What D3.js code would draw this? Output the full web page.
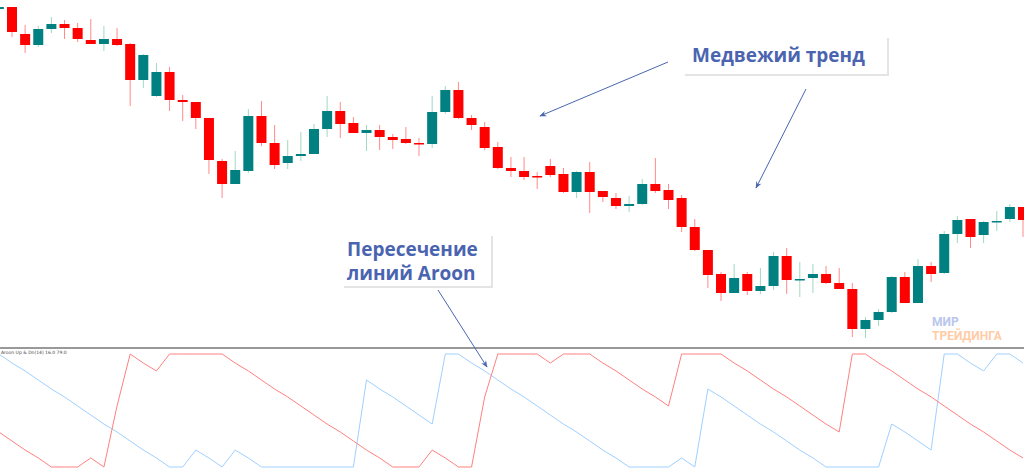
<!DOCTYPE html>
<html>
<head>
<meta charset="utf-8">
<script src="https://cdn.jsdelivr.net/npm/d3@7"></script>
<style>
  body { margin: 0; background: #fff; }
  svg { display: block; }
</style>
</head>
<body>
<script>
// candles: index, open, high, low, close (price units)
var idx = d3.range(-1, 78);
var opens = [491,493,466,455,471,476,472,460,456,461,
  456,420,404,428,400,398,382,339,316,329,
  384,357,337,344,346,371,389,377,367,370,
  363,361,357,356,388,410,382,373,353,332,
  329,324,334,326,308,328,309,302,294,296,
  316,310,302,273,250,226,207,226,209,214,
  244,220,222,226,217,211,171,180,188,223,
  197,234,227,266,281,265,278,281,293];
var highs = [494,493,475,474,483,480,477,481,474,472,
  457,446,437,433,405,398,382,341,349,391,
  399,375,360,368,376,404,398,383,375,375,
  366,373,362,404,414,418,385,378,358,343,
  343,328,341,332,329,338,309,307,304,321,
  342,316,305,281,250,228,236,228,232,248,
  252,238,236,234,232,217,183,191,224,228,
  241,238,269,284,281,279,289,296,293];
var lows = [490,463,447,453,467,461,458,456,449,454,
  394,412,403,389,379,371,326,302,316,327,
  354,331,331,339,346,363,362,367,349,350,
  351,356,344,352,386,381,370,350,331,323,
  320,311,323,307,302,287,298,291,288,295,
  307,291,268,249,212,199,207,205,206,210,
  206,203,207,216,211,163,162,174,187,197,
  197,218,226,257,252,257,269,278,263];
var closes = [493,468,455,471,476,472,461,456,461,455,
  420,445,428,400,398,382,340,316,330,384,
  357,335,344,346,371,389,376,367,370,363,
  360,357,356,388,410,382,375,352,332,329,
  323,323,325,308,328,308,303,294,296,316,
  309,300,273,250,225,207,222,209,214,244,
  220,221,226,217,211,171,180,188,223,197,
  234,226,266,280,263,278,279,293,280];

// Aroon values (%), same index as candles
var aroonUp   = [100,92,85,77,69,62,54,46,38,31,23,15,8,0,0,15,8,0,15,8,0,0,0,0,0,0,0,0,77,69,62,54,46,38,100,100,92,85,77,69,62,54,46,38,31,23,15,8,0,0,0,0,8,0,69,62,54,46,38,31,23,15,8,0,0,0,0,0,38,31,23,15,100,100,92,85,100,100,92];
var aroonDown = [31,23,15,8,0,0,0,8,0,54,100,92,85,100,100,100,100,100,92,85,77,69,62,54,46,38,31,23,15,8,0,0,0,15,8,0,0,62,100,100,100,100,92,100,100,100,92,85,77,69,62,54,100,100,100,100,92,85,77,69,62,54,46,38,31,100,100,92,85,77,69,62,54,46,38,31,23,15,8];

var candles = idx.map(function(k, i) {
  return { k: k, o: opens[i], h: highs[i], l: lows[i], c: closes[i] };
});

const W = 1024, H = 473;
const svg = d3.select("body").append("svg").attr("width", W).attr("height", H);

var x = d3.scaleLinear().domain([0, 77]).range([12, 12 + 13.13 * 77]);
var y = d3.scaleLinear().domain([500, 160]).range([0, 340]);
var ya = d3.scaleLinear().domain([0, 100]).range([467, 354]);

var up = "#ff0000", dn = "#008080";

// wicks
svg.append("g").selectAll("line").data(candles).enter().append("line")
  .attr("x1", d => x(d.k)).attr("x2", d => x(d.k))
  .attr("y1", d => y(d.h)).attr("y2", d => y(d.l))
  .attr("stroke", d => d.c >= d.o ? "#9fd9c0" : "#ff8a8a")
  .attr("stroke-width", 1);

// bodies
svg.append("g").selectAll("rect").data(candles).enter().append("rect")
  .attr("x", d => x(d.k) - 5)
  .attr("width", 10)
  .attr("y", d => y(Math.max(d.o, d.c)))
  .attr("height", d => Math.max(1.5, Math.abs(y(d.o) - y(d.c))))
  .attr("fill", d => d.c >= d.o ? dn : up);

// separator
svg.append("line").attr("x1", 0).attr("x2", W).attr("y1", 348).attr("y2", 348)
  .attr("stroke", "#999").attr("stroke-width", 2);
svg.append("text").attr("x", 1).attr("y", 354).text("Aroon Up & Dn(14) 16.0 79.0")
  .style("font-family", "DejaVu Sans").style("font-size", "4.5px").attr("fill", "#444");

// aroon lines
var line = function(vals) {
  return d3.line().x((d, i) => x(idx[i])).y(d => ya(d))(vals);
};
svg.append("path").attr("d", line(aroonUp)).attr("fill", "none")
  .attr("stroke", "#9fd0ff").attr("stroke-width", 1);
svg.append("path").attr("d", line(aroonDown)).attr("fill", "none")
  .attr("stroke", "#ff8080").attr("stroke-width", 1);

// watermark
svg.append("text").attr("x", 932).attr("y", 326).text("МИР")
  .style("font-family", "Roboto").style("font-weight", "bold").style("font-size", "12px")
  .attr("fill", "#a9b8e8").attr("opacity", 0.8);
svg.append("text").attr("x", 932).attr("y", 340).text("ТРЕЙДИНГА")
  .style("font-family", "Roboto").style("font-weight", "bold").style("font-size", "12px")
  .attr("fill", "#ffc090").attr("opacity", 0.8);

// annotations
var defs = svg.append("defs");
defs.append("marker").attr("id", "ah").attr("viewBox", "0 0 10 10")
  .attr("refX", 9).attr("refY", 5).attr("markerWidth", 7).attr("markerHeight", 7)
  .attr("orient", "auto")
  .append("path").attr("d", "M0,1 L10,5 L0,9 L3,5 Z").attr("fill", "#4a66b0");

var arrows = [[668, 62, 540, 116], [806, 89, 756, 188], [438, 290, 487, 367]];
svg.append("g").selectAll("line").data(arrows).enter().append("line")
  .attr("x1", d => d[0]).attr("y1", d => d[1]).attr("x2", d => d[2]).attr("y2", d => d[3])
  .attr("stroke", "#4a66b0").attr("stroke-width", 1).attr("marker-end", "url(#ah)");

function box(x0, y0, w, h) {
  svg.append("rect").attr("x", x0 + 2).attr("y", y0 + 2).attr("width", w).attr("height", h)
    .attr("fill", "#e4e4e4");
  svg.append("rect").attr("x", x0).attr("y", y0).attr("width", w).attr("height", h)
    .attr("fill", "#fff");
}
box(683, 36, 204, 38);
box(342, 234, 149, 52);

var tstyle = function(t) {
  t.style("font-family", "Open Sans").style("font-weight", "bold")
   .style("font-size", "19px").attr("fill", "#4a64b0");
};
svg.append("text").attr("x", 692).attr("y", 62).text("Медвежий тренд").call(tstyle);
svg.append("text").attr("x", 347).attr("y", 256).text("Пересечение").call(tstyle);
svg.append("text").attr("x", 347).attr("y", 280).text("линий Aroon").call(tstyle);
</script>
</body>
</html>
